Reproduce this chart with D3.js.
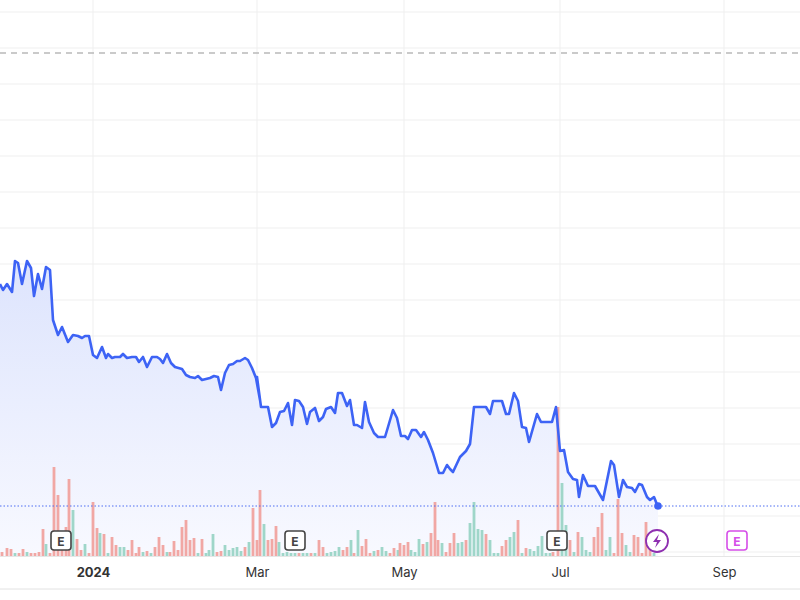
<!DOCTYPE html>
<html><head><meta charset="utf-8">
<script src="https://cdn.jsdelivr.net/npm/d3@7"></script>
<style>body{margin:0;background:#fff}svg{display:block}</style>
</head><body><svg id="c" width="800" height="600"></svg>
<script>
const lineT = [0,3,7,12,15,18,22,27,31,34,38,42,46,50,53,58,62,68,73,78,82,85,89,93,97,102,106,108,112,115,120,123,127,132,136,139,143,147,152,157,160,163,167,171,175,182,186,190,195,198,202,210,214,218,221,225,229,233,237,240,245,248,252,256,260,
257,261,268,272,276,280,284,288,292,295,299,303,307,310,315,319,323,326,331,335,338,342,347,350,354,357,362,365,369,374,378,385,388,393,397,401,405,408,412,416,421,424,428,433,439,443,447,450,
453,460,466,470,474,486,490,493,502,506,509,514,518,522,526,529,537,541,552,556,560,564,568,573,577,579,583,588,595,603,611,614,619,623,627,632,635,639,642,647,650,654,658];
const lineP = [316,310,316,308,339,337,316,339,332,304,326,311,333,330,280,265,273,258,265,264,262,264,264,245,242,253,242,246,242,243,243,246,242,243,243,238,243,233,243,243,241,237,246,237,233,231,225,223,222,224,220,222,224,223,210,227,235,236,239,239,242,240,232,222,200,
223,193,193,173,177,188,189,197,175,200,199,193,176,188,192,179,183,191,193,187,207,207,194,200,175,175,172,198,178,167,163,163,173,190,182,164,164,161,170,170,163,168,160,147,127,127,135,131,
128,143,149,156,193,193,186,199,199,186,186,207,199,173,172,158,186,178,178,193,149,150,128,121,120,103,125,114,114,100,139,135,103,120,113,112,108,116,115,103,100,103,93];
const volT = [2,7,11,15,19,23,27,31,35,39,43,46,50,54,58,62,66,69,73,77,81,85,89,93,97,100,104,108,112,116,120,124,128,132,136,139,143,147,151,155,159,163,167,170,174,178,182,186,190,194,198,202,206,209,213,217,221,225,229,233,237,241,245,249,253,257,260,264,268,272,276,279,283,287,291,295,299,303,307,311,315,319,323,327,331,335,339,343,347,351,354,358,362,366,370,374,378,382,386,390,394,398,
400,404,408,411,415,419,423,427,431,435,438,442,446,450,454,458,462,466,470,474,478,482,486,490,494,498,502,506,510,514,518,522,526,530,534,538,542,546,550,553,558,562,566,570,574,578,582,586,590,594,598,602,606,610,614,618,622,626,630,634,638,642,646,650,654];
const volV = [4,8,7,3,3,7,4,3,3,4,27,12,3,89,61,6,29,77,46,17,6,12,3,54,28,23,22,3,19,11,9,9,6,16,3,9,4,5,3,9,19,11,4,4,15,6,29,36,16,18,3,17,3,6,22,4,5,11,6,8,9,5,9,14,48,16,66,32,16,17,30,14,3,4,3,3,3,3,3,3,3,16,9,3,4,5,9,6,9,16,3,26,10,17,3,5,6,9,5,3,8,6,
13,11,14,6,4,17,12,14,23,54,16,13,4,13,23,13,14,16,33,54,27,26,22,16,3,3,10,16,19,24,36,3,8,7,5,10,20,3,3,4,149,73,31,16,4,24,19,6,4,19,29,43,6,19,3,57,23,11,4,21,19,3,34,23,3];
const volDir = [
 "r","r","r","g","r","r","g","r","r","r","r","g","r","r","r","r","r","r","g","r","r","g","r","r","r","g","r","g","r","r",
 "g","g","r","r","r","r","g","r","g","r","r","r","g","r","r","r","r","r","r","r","g","r","g","g","g","r","r","g","g","g",
 "g","g","r","g","r","r","r","g","r","r","r","g","g","g","g","g","r","g","g","r","g","r","r","g","g","g","g","r","r","g",
 "r","g","r","r","r","g","r","g","g","r","r","g",
 "r","r","r","g","g","g","r","g","r","r","r","g","r","r","r","g","g","r","g","g","g","g","r","g","g","g","r","r","g","g",
 "r","g","r","g","g","g","g","g","g","r","r","g","g","r","g","r","g","g","g","r","r","r","g","g","r","r","r","g","g","r",
 "r","r","r","r","g"];
const tickT = [93,257,404,560,724];
const tickL = ["2024","Mar","May","Jul","Sep"];
const gridP = [48,84,120,156,192,228,264,300,336,372,408,444,480,516,552,588];
const refHigh = 547, lastP = 94;
const events = [{t:61,k:"E"},{t:295,k:"E"},{t:557,k:"E"},{t:657,k:"S"},{t:737,k:"F"}];

const svg = d3.select("#c");
const x = d3.scaleLinear().domain([0,800]).range([0,800]);
const y = d3.scaleLinear().domain([0,600]).range([600,0]);
const base = 556;
const v = d3.scaleLinear().domain([0,200]).range([base, base-200]);

const defs = svg.append("defs");
const g = defs.append("linearGradient").attr("id","ag").attr("x1",0).attr("x2",0).attr("y1",0).attr("y2",1);
g.append("stop").attr("offset","0%").attr("stop-color","#dde4fd");
g.append("stop").attr("offset","100%").attr("stop-color","#f8f9ff");

svg.append("g").selectAll("line").data(gridP).join("line")
  .attr("x1",0).attr("x2",800).attr("y1",d=>y(d)).attr("y2",d=>y(d))
  .attr("stroke","#efefef").attr("stroke-width",1);
svg.append("g").selectAll("line").data(tickT).join("line")
  .attr("x1",d=>x(d)).attr("x2",d=>x(d)).attr("y1",0).attr("y2",base)
  .attr("stroke","#efefef").attr("stroke-width",1);

const pts = lineT.map((t,i)=>[t,lineP[i]]);
svg.append("path").datum(pts)
  .attr("d", d3.area().x(d=>x(d[0])).y0(base).y1(d=>y(d[1])))
  .attr("fill","url(#ag)");

const vd = volT.map((t,i)=>({t, v:volV[i], up: volDir[i]==="g"}));
svg.append("g").selectAll("rect").data(vd).join("rect")
  .attr("x",d=>x(d.t)-1.4).attr("width",2.8)
  .attr("y",d=>v(d.v)).attr("height",d=>base-v(d.v))
  .attr("fill",d=>d.up?"#9fd6c9":"#f1a7a4");

svg.append("line").attr("x1",0).attr("x2",800).attr("y1",y(refHigh)).attr("y2",y(refHigh))
  .attr("stroke","#b9b9b9").attr("stroke-width",1.5).attr("stroke-dasharray","6,5");
svg.append("line").attr("x1",0).attr("x2",800).attr("y1",y(lastP)).attr("y2",y(lastP))
  .attr("stroke","#4e6ef2").attr("stroke-width",1).attr("stroke-dasharray","1.5,2");

svg.append("path").datum(pts)
  .attr("d", d3.line().x(d=>x(d[0])).y(d=>y(d[1])))
  .attr("fill","none").attr("stroke","#3d63f5").attr("stroke-width",2.6).attr("stroke-linejoin","round");
svg.append("circle").attr("cx",x(lineT[lineT.length-1])).attr("cy",y(lastP)).attr("r",3.8).attr("fill","#3d63f5");

svg.append("rect").attr("x",0).attr("y",base+1).attr("width",800).attr("height",32).attr("fill","#fff");
svg.append("line").attr("x1",0).attr("x2",800).attr("y1",base+0.5).attr("y2",base+0.5).attr("stroke","#e6e6e6");
svg.append("line").attr("x1",0).attr("x2",800).attr("y1",589).attr("y2",589).attr("stroke","#e2e2e2");
const ax = svg.append("g").attr("transform",`translate(0,${base})`)
  .call(d3.axisBottom(x).tickValues(tickT).tickFormat((d,i)=>tickL[i]).tickSize(0).tickPadding(12));
ax.select(".domain").remove();
ax.selectAll("text").attr("font-family","Inter, 'Noto Sans', sans-serif").attr("font-size",13)
  .attr("fill","#333").attr("font-weight",(d,i)=>i===0?"700":"400");

const eg = svg.append("g").selectAll("g").data(events).join("g")
  .attr("transform",d=>`translate(${x(d.t)},541)`);
eg.each(function(d){
  const s = d3.select(this);
  if(d.k==="S"){
    s.append("circle").attr("r",11).attr("fill","#fff").attr("stroke","#8e2fb0").attr("stroke-width",1.8);
    s.append("path").attr("d","M2,-7 L-4,1 L0,1 L-2,7 L4,-1 L0,-1 Z").attr("fill","#8e2fb0");
  } else {
    const c = d.k==="F" ? "#d54ee8" : "#444";
    s.append("rect").attr("x",-10).attr("y",-10).attr("width",20).attr("height",19).attr("rx",3)
      .attr("fill","#fff").attr("stroke",c).attr("stroke-width",1.6);
    s.append("text").text("E").attr("text-anchor","middle").attr("y",4.5)
      .attr("font-family","Inter, 'Noto Sans', sans-serif").attr("font-size",12).attr("font-weight",700).attr("fill",c);
  }
});
</script></body></html>
